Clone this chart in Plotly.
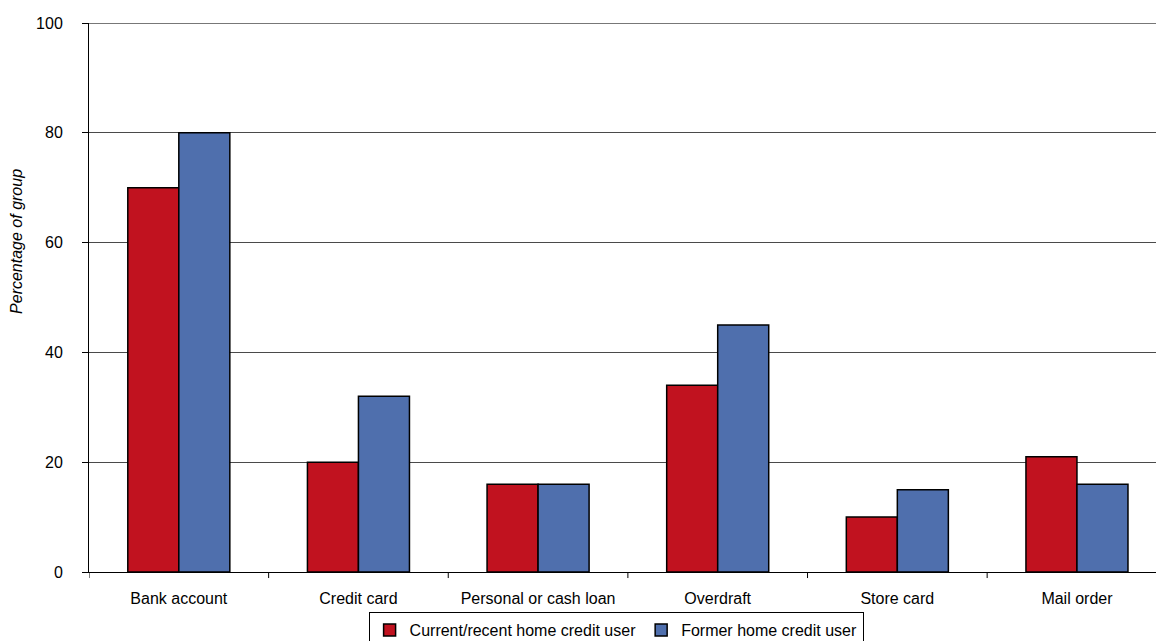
import plotly.graph_objects as go

categories = ["Bank account", "Credit card", "Personal or cash loan", "Overdraft", "Store card", "Mail order"]
current_recent = [70, 20, 16, 34, 10, 21]
former = [80, 32, 16, 45, 15, 16]
y_ticks = [0, 20, 40, 60, 80, 100]

RED = "#C1121F"
BLUE = "#4F6FAD"
GRID = "#4a4a4a"
FONT = "Liberation Sans, Arial, sans-serif"

fig = go.Figure()
fig.add_trace(go.Bar(x=list(range(len(categories))), y=current_recent, name="Current/recent home credit user",
                     marker=dict(color=RED, line=dict(color="black", width=1.5))))
fig.add_trace(go.Bar(x=list(range(len(categories))), y=former, name="Former home credit user",
                     marker=dict(color=BLUE, line=dict(color="black", width=1.5))))

fig.update_layout(
    width=1156, height=641,
    margin=dict(l=89, r=0, t=23, b=69, autoexpand=False),
    paper_bgcolor="white", plot_bgcolor="white",
    barmode="group", bargap=0.432, bargroupgap=0,
    font=dict(family=FONT, size=16, color="black"),
    showlegend=True,
    legend=dict(orientation="h", x=0.494, xanchor="center", y=-0.073, yanchor="top",
                bordercolor="black", borderwidth=1, bgcolor="white",
                font=dict(size=16), itemwidth=30, tracegroupgap=0),
    xaxis=dict(
        range=[-0.5, 5.44],
        tickmode="array", tickvals=list(range(len(categories))), ticktext=categories,
        ticks="", showline=True, linecolor="black", linewidth=1,
        showgrid=False, zeroline=False, ticklabelstandoff=12,
    ),
    yaxis=dict(
        range=[0, 100], tickvals=y_ticks, ticks="outside", ticklen=6, tickcolor="black",
        showline=True, linecolor="black", linewidth=1,
        showgrid=True, gridcolor=GRID, gridwidth=1, zeroline=False,
        ticklabelstandoff=16,
    ),
)

# gridline at the top of the value range
fig.add_shape(type="line", xref="paper", yref="y", x0=0, x1=1, y0=y_ticks[-1], y1=y_ticks[-1],
              line=dict(color=GRID, width=1.5), layer="below")

# category boundary ticks on x axis
for i in range(len(categories) + 1):
    fig.add_shape(type="line", xref="x", yref="paper", x0=i - 0.5, x1=i - 0.5, y0=0, y1=-0.011,
                  line=dict(color="black", width=1))

fig.add_annotation(text="<i>Percentage of group</i>", xref="paper", yref="paper",
                   x=-0.0675, y=0.603, textangle=-90, showarrow=False,
                   font=dict(size=16, family=FONT), xanchor="center", yanchor="middle")

fig.write_html("out.html")
